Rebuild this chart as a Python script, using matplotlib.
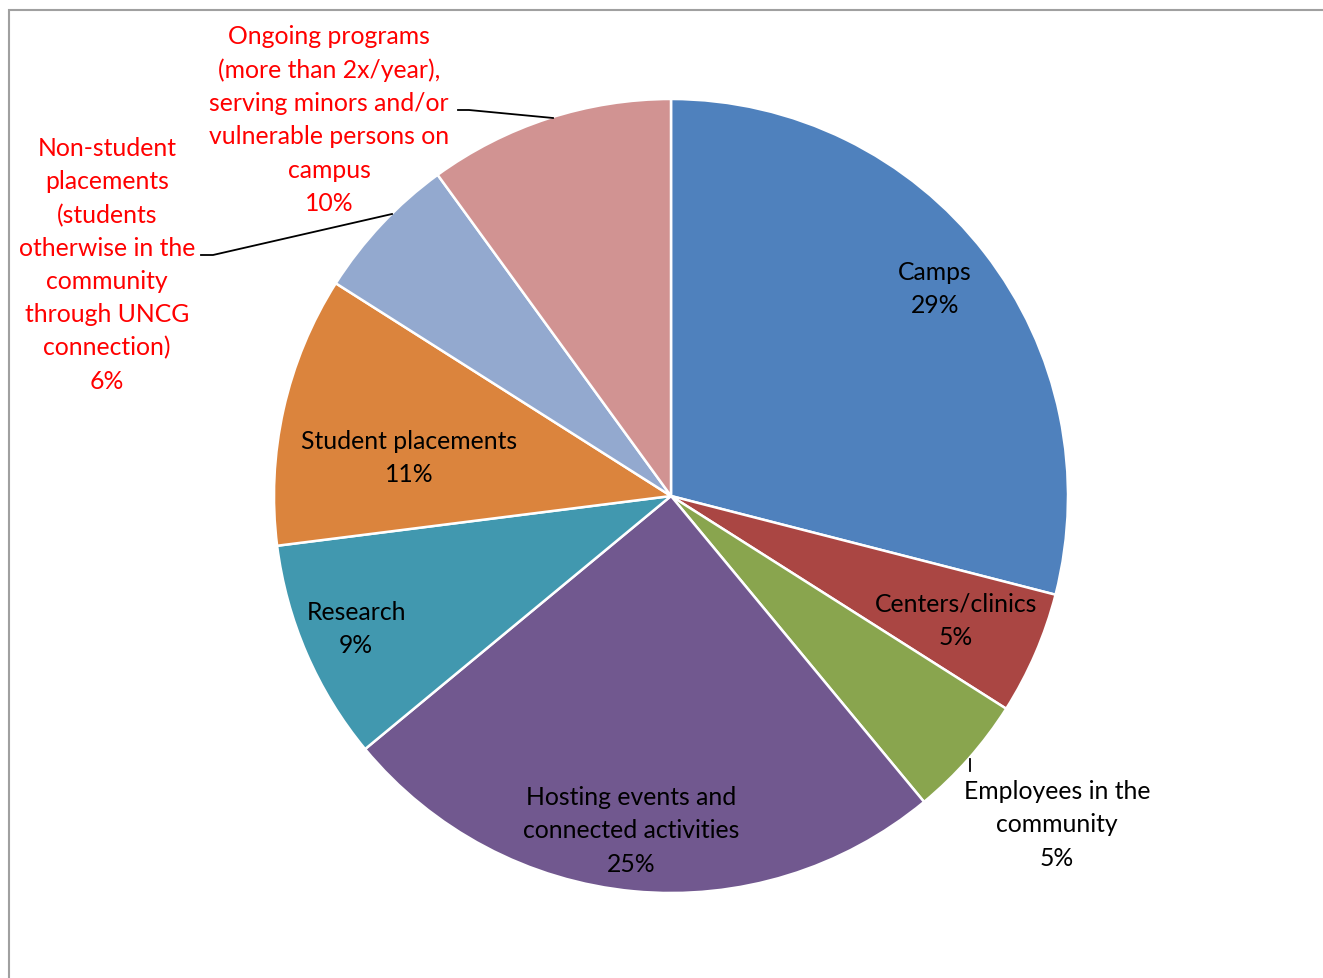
import matplotlib.pyplot as plt
from matplotlib.patches import Rectangle

W, H = 1323, 979

labels = ['Camps', 'Centers/clinics', 'Employees in the\ncommunity',
          'Hosting events and\nconnected activities', 'Research',
          'Student placements',
          'Non-student\nplacements\n(students\notherwise in the\ncommunity\nthrough UNCG\nconnection)',
          'Ongoing programs\n(more than 2x/year),\nserving minors and/or\nvulnerable persons on\ncampus']
shares = [29, 5, 5, 25, 9, 11, 6, 10]
colors = ['#4F81BD', '#AA4643', '#89A54E', '#71588F',
          '#4198AF', '#DB843D', '#93A9CF', '#D19392']
text_colors = ['black'] * 6 + ['#FF0000', '#FF0000']

fig = plt.figure(figsize=(W / 100, H / 100), dpi=100)
ax = fig.add_axes([0, 0, 1, 1])

# chart area border (runs off the right and bottom edge)
ax.add_patch(Rectangle((9, -20), W + 40, H - 11 + 20, fill=False,
                       edgecolor='#A0A0A0', lw=1.5))

cx, cy, R = 671, H - 497, 397
wedges, _ = ax.pie(shares, colors=colors, startangle=90, counterclock=False,
                   center=(cx, cy), radius=R, frame=True,
                   wedgeprops=dict(edgecolor='white', linewidth=1.8))
ax.set_xlim(0, W)
ax.set_ylim(0, H)
ax.set_aspect('equal')
ax.axis('off')

# label block centres in pixel space (x, y from top)
label_pos = [(935, 289), (956, 621), (1057, 825), (631, 831),
             (356, 629), (409, 458), (107, 265), (329, 120)]
for lab, val, (lx, ly), tc in zip(labels, shares, label_pos, text_colors):
    ax.text(lx, H - ly, f'{lab}\n{val}%', ha='center', va='center',
            fontsize=17.8, family='Lato', color=tc, linespacing=1.53)

# leader lines for the outside labels
leaders = [
    [(970, 760), (970, 772)],
    [(392, 215), (213, 256), (201, 256)],
    [(553, 119), (469, 111), (458, 111)],
]
for pts in leaders:
    xs, ys = zip(*pts)
    ax.plot(xs, [H - y for y in ys], color='black', lw=1.3)

fig.savefig('out.png', dpi=100)
